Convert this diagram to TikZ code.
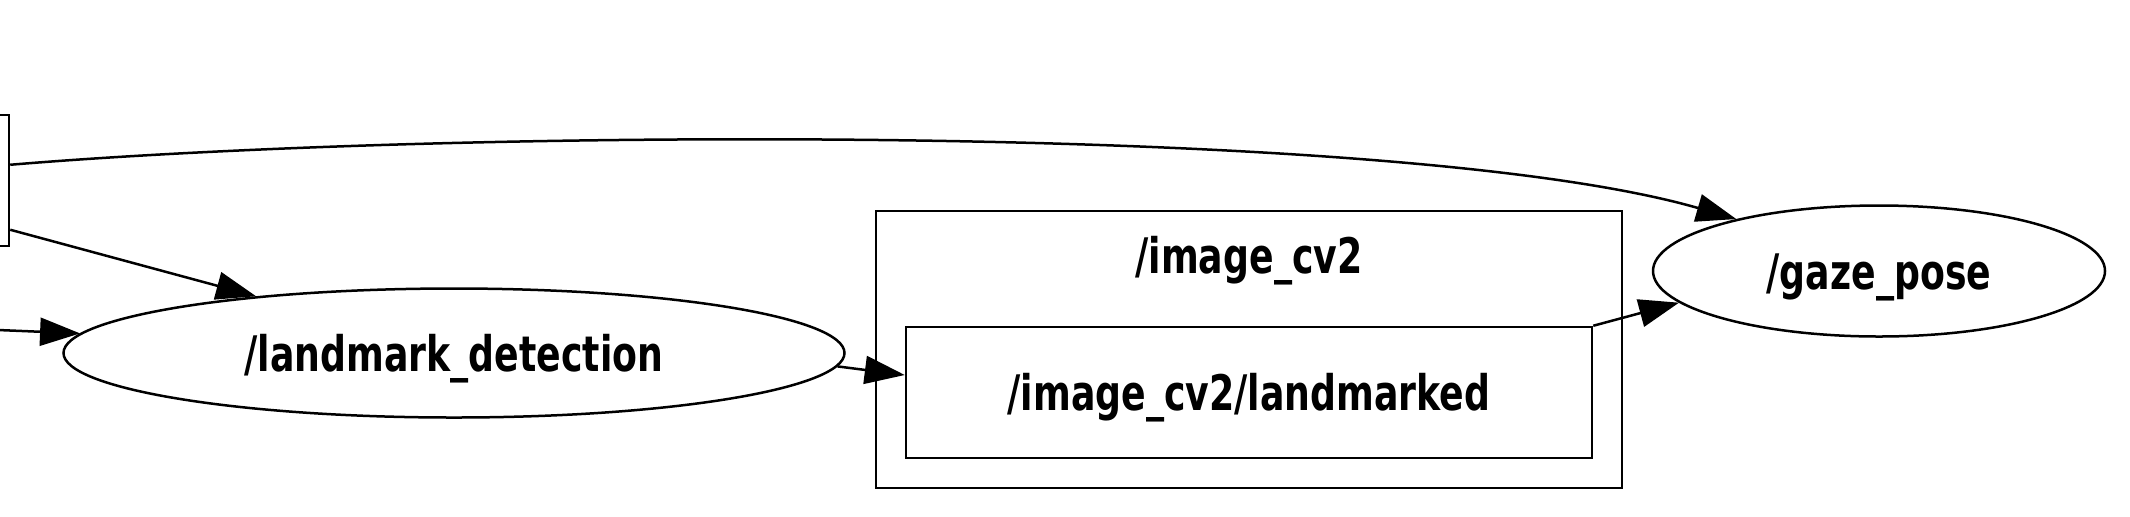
\documentclass[tikz,border=0pt]{standalone}
\usepackage{fontspec}
\newfontfamily\lbl[FakeStretch=0.74]{DejaVu Sans}
\usetikzlibrary{shapes.geometric,arrows.meta,calc}
\begin{document}
\begin{tikzpicture}[x=0.5pt,y=-0.5pt,
  txt/.style={font=\lbl\bfseries\fontsize{24.5}{29}\selectfont,text height=18pt,text depth=0pt},
  ell/.style={draw,ellipse,line width=1.25pt,inner sep=0pt,txt},
  box/.style={draw,rectangle,line width=1.25pt,inner sep=0pt,txt},
  conn/.style={line width=1.25pt,-{Triangle[length=20pt,width=14pt]}}]
\useasboundingbox (0,0) rectangle (2130,516);
% partially visible source node
\node[box,minimum width=109pt,minimum height=65.5pt] (src) at (-100,180.5) {};
\coordinate (s1) at ($(src.north east)+(0,51)$);
\coordinate (s2) at ($(src.north east)+(0,116)$);
\coordinate (in1) at (-2,330);
% nodes
\node[ell,minimum width=390.5pt,minimum height=64.5pt] (lm) at (454,353) {/landmark\_detection};
\node[ell,minimum width=226pt,minimum height=65.5pt] (gaze) at (1879,271) {/gaze\_pose};
\node[box,minimum width=373pt,minimum height=138.5pt] (cv2) at (1249,349.5) {};
\node[txt] (cv2lbl) at (1249,255) {/image\_cv2};
\node[box,minimum width=343pt,minimum height=65.5pt] (inner) at (1249,392.5) {/image\_cv2/landmarked};
% connectors
\draw[conn] (s1) .. controls (450,128) and (1400,122) .. (gaze.160);
\draw[conn] (s2) -- (lm.164);
\draw[conn] (in1) -- (lm.177);
\draw[conn] (lm.-2.6) -- ([yshift=8.75pt]inner.west);
\draw[conn] (inner.north east) -- (gaze.189);
\end{tikzpicture}
\end{document}
